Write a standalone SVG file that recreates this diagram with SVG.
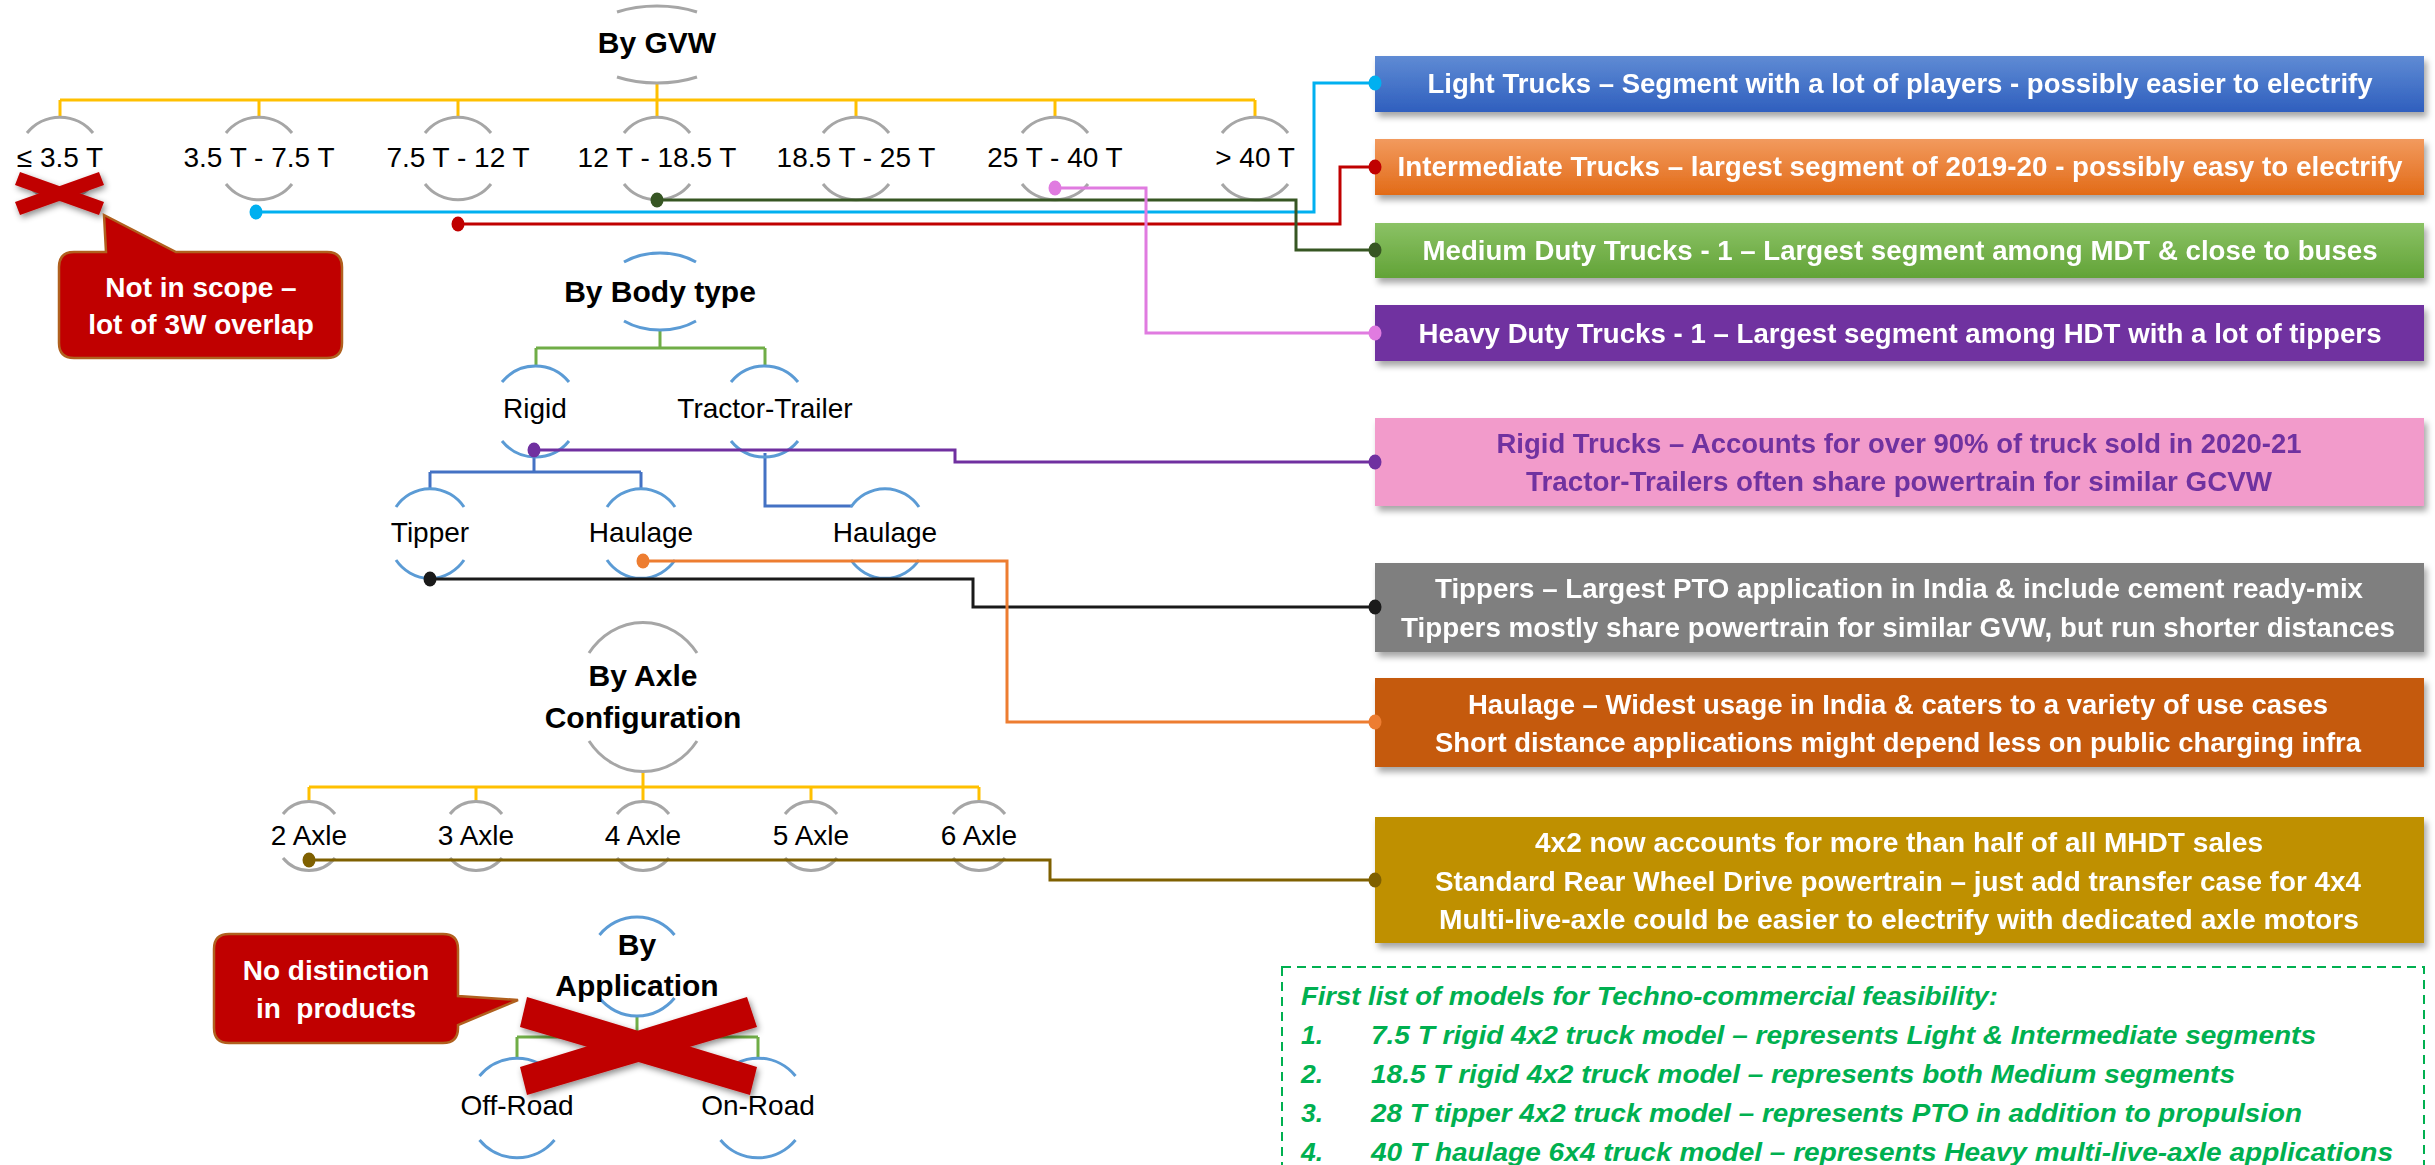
<svg xmlns="http://www.w3.org/2000/svg" width="2435" height="1165" viewBox="0 0 2435 1165">
  <style>
    text { font-family: 'Liberation Sans', Arial, sans-serif; }
    .lbl { font-size: 28px; fill: #000; text-anchor: middle; }
    .hdr { font-size: 30px; font-weight: bold; fill: #000; text-anchor: middle; }
    .arcG { fill: none; stroke: #a6a6a6; stroke-width: 3; }
    .arcB { fill: none; stroke: #5b9bd5; stroke-width: 3; }
    .tree { fill: none; stroke-width: 3; }
    .yel { stroke: #ffc000; }
    .grn { stroke: #70ad47; }
    .blu { stroke: #4472c4; }
    .btxt { font-size: 27.5px; font-weight: bold; fill: #fff; text-anchor: middle; }
    .ptxt { font-size: 27.5px; font-weight: bold; fill: #7030a0; text-anchor: middle; }
    .ctxt { font-size: 28px; font-weight: bold; fill: #fff; text-anchor: middle; }
    .list { font-size: 26.5px; font-weight: bold; font-style: italic; fill: #00b050; }
    .conn path { fill: none; stroke-width: 3; }
    .cross { fill: #c00000; }
    .callout { fill: #c00000; stroke: #b0601e; stroke-width: 2.5; }
  </style>
  <defs>
    <filter id="shadow" x="-5%" y="-20%" width="110%" height="150%">
      <feDropShadow dx="3" dy="5" stdDeviation="3" flood-color="#000" flood-opacity="0.35"/>
    </filter>
    <filter id="xshadow" x="-20%" y="-30%" width="140%" height="160%">
      <feDropShadow dx="2" dy="3" stdDeviation="3" flood-color="#000" flood-opacity="0.45"/>
    </filter>
    <linearGradient id="gBlue" x1="0" y1="0" x2="0" y2="1">
      <stop offset="0" stop-color="#5f8bd4"/><stop offset="1" stop-color="#2f5fbe"/>
    </linearGradient>
    <linearGradient id="gOrange" x1="0" y1="0" x2="0" y2="1">
      <stop offset="0" stop-color="#f29a5e"/><stop offset="1" stop-color="#e26b17"/>
    </linearGradient>
    <linearGradient id="gGreen" x1="0" y1="0" x2="0" y2="1">
      <stop offset="0" stop-color="#8bc265"/><stop offset="1" stop-color="#62a337"/>
    </linearGradient>
  </defs>

  <rect width="2435" height="1165" fill="#fff"/>

  <!-- ===== By GVW tree ===== -->
  <g id="tree-gvw-lines" class="tree yel">
    <path d="M657,83 V100 M60,100 H1255 M60,100 V117 M259,100 V117 M458,100 V117 M657,100 V117 M856,100 V117 M1055,100 V117 M1255,100 V117"/>
  </g>
  <g id="node-gvw">
    <path class="arcG" d="M617,12 A75,38.5 0 0 1 697,12 M617,77 A75,38.5 0 0 0 697,77"/>
    <text class="hdr" x="657" y="53">By GVW</text>
  </g>
  <g id="node-gvw-le35">
    <path class="arcG" d="M27,133 A42,41.5 0 0 1 93,133 M27,184 A42,41.5 0 0 0 93,184"/>
    <text class="lbl" x="60" y="167">≤ 3.5 T</text>
  </g>
  <g id="node-gvw-35-75">
    <path class="arcG" d="M226,133 A42,41.5 0 0 1 292,133 M226,184 A42,41.5 0 0 0 292,184"/>
    <text class="lbl" x="259" y="167">3.5 T - 7.5 T</text>
  </g>
  <g id="node-gvw-75-12">
    <path class="arcG" d="M425,133 A42,41.5 0 0 1 491,133 M425,184 A42,41.5 0 0 0 491,184"/>
    <text class="lbl" x="458" y="167">7.5 T - 12 T</text>
  </g>
  <g id="node-gvw-12-185">
    <path class="arcG" d="M624,133 A42,41.5 0 0 1 690,133 M624,184 A42,41.5 0 0 0 690,184"/>
    <text class="lbl" x="657" y="167">12 T - 18.5 T</text>
  </g>
  <g id="node-gvw-185-25">
    <path class="arcG" d="M823,133 A42,41.5 0 0 1 889,133 M823,184 A42,41.5 0 0 0 889,184"/>
    <text class="lbl" x="856" y="167">18.5 T - 25 T</text>
  </g>
  <g id="node-gvw-25-40">
    <path class="arcG" d="M1022,133 A42,41.5 0 0 1 1088,133 M1022,184 A42,41.5 0 0 0 1088,184"/>
    <text class="lbl" x="1055" y="167">25 T - 40 T</text>
  </g>
  <g id="node-gvw-gt40">
    <path class="arcG" d="M1222,133 A42,41.5 0 0 1 1288,133 M1222,184 A42,41.5 0 0 0 1288,184"/>
    <text class="lbl" x="1255" y="167">&gt; 40 T</text>
  </g>

  <!-- out-of-scope mark and its callout -->
  <g id="cross-gvw" class="cross" filter="url(#xshadow)">
    <polygon points="20,172 15,185 99,215 104,202"/>
    <polygon points="99,172 104,185 20,215 15,202"/>
  </g>
  <g id="callout-scope">
    <path class="callout" d="M74,252 H106 L104,215 L176,252 H327 Q342,252 342,267 V343 Q342,358 327,358 H74 Q59,358 59,343 V267 Q59,252 74,252 Z"/>
    <text class="ctxt" x="201" y="297">Not in scope –</text>
    <text class="ctxt" x="201" y="334">lot of 3W overlap</text>
  </g>

  <!-- ===== By Body type tree ===== -->
  <g id="tree-body-lines" class="tree">
    <path class="grn" d="M660,330 V348 M536,348 H765 M536,348 V366 M765,348 V366"/>
    <path class="blu" d="M534,457 V472 M430,472 H641 M430,472 V489 M641,472 V489 M765,453 V506 H852"/>
  </g>
  <g id="node-body">
    <path class="arcB" d="M624,262 A56,38.5 0 0 1 696,262 M624,321 A56,38.5 0 0 0 696,321"/>
    <text class="hdr" x="660" y="302">By Body type</text>
  </g>
  <g id="node-rigid">
    <path class="arcB" d="M502,382 A44,45.5 0 0 1 569,382 M502,441 A44,45.5 0 0 0 569,441"/>
    <text class="lbl" x="535" y="418">Rigid</text>
  </g>
  <g id="node-tractor">
    <path class="arcB" d="M731,382 A44,45.5 0 0 1 798,382 M731,441 A44,45.5 0 0 0 798,441"/>
    <text class="lbl" x="765" y="418">Tractor-Trailer</text>
  </g>
  <g id="node-tipper">
    <path class="arcB" d="M396,507 A42,44.5 0 0 1 464,507 M396,560 A42,44.5 0 0 0 464,560"/>
    <text class="lbl" x="430" y="542">Tipper</text>
  </g>
  <g id="node-haulage-rigid">
    <path class="arcB" d="M607,507 A42,44.5 0 0 1 675,507 M607,560 A42,44.5 0 0 0 675,560"/>
    <text class="lbl" x="641" y="542">Haulage</text>
  </g>
  <g id="node-haulage-tractor">
    <path class="arcB" d="M851,507 A42,44.5 0 0 1 919,507 M851,560 A42,44.5 0 0 0 919,560"/>
    <text class="lbl" x="885" y="542">Haulage</text>
  </g>

  <!-- ===== By Axle Configuration tree ===== -->
  <g id="tree-axle-lines" class="tree yel">
    <path d="M643,772 V787 M309,787 H979 M309,787 V801 M476,787 V801 M643,787 V801 M811,787 V801 M979,787 V801"/>
  </g>
  <g id="node-axle">
    <path class="arcG" d="M589,653 A67,75 0 0 1 697,653 M589,741 A67,75 0 0 0 697,741"/>
    <text class="hdr" x="643" y="686" font-size="31">By Axle</text>
    <text class="hdr" x="643" y="728" font-size="31">Configuration</text>
  </g>
  <g id="node-axle-2">
    <path class="arcG" d="M283,814 A34,35 0 0 1 335,814 M283,858 A34,35 0 0 0 335,858"/>
    <text class="lbl" x="309" y="845">2 Axle</text>
  </g>
  <g id="node-axle-3">
    <path class="arcG" d="M450,814 A34,35 0 0 1 502,814 M450,858 A34,35 0 0 0 502,858"/>
    <text class="lbl" x="476" y="845">3 Axle</text>
  </g>
  <g id="node-axle-4">
    <path class="arcG" d="M617,814 A34,35 0 0 1 669,814 M617,858 A34,35 0 0 0 669,858"/>
    <text class="lbl" x="643" y="845">4 Axle</text>
  </g>
  <g id="node-axle-5">
    <path class="arcG" d="M785,814 A34,35 0 0 1 837,814 M785,858 A34,35 0 0 0 837,858"/>
    <text class="lbl" x="811" y="845">5 Axle</text>
  </g>
  <g id="node-axle-6">
    <path class="arcG" d="M953,814 A34,35 0 0 1 1005,814 M953,858 A34,35 0 0 0 1005,858"/>
    <text class="lbl" x="979" y="845">6 Axle</text>
  </g>

  <!-- ===== By Application tree ===== -->
  <g id="tree-app-lines" class="tree grn">
    <path d="M637,1016 V1037 M517,1037 H758 M517,1037 V1058 M758,1037 V1058"/>
  </g>
  <g id="node-app">
    <path class="arcB" d="M599.5,935 A48.6,49.5 0 0 1 674.5,935 M599.5,998 A48.6,49.5 0 0 0 674.5,998"/>
    <text class="hdr" x="637" y="955" font-size="31">By</text>
    <text class="hdr" x="637" y="996" font-size="31">Application</text>
  </g>
  <g id="node-offroad">
    <path class="arcB" d="M479.5,1076 A49,50 0 0 1 554.5,1076 M479.5,1140 A49,50 0 0 0 554.5,1140"/>
    <text class="lbl" x="517" y="1115">Off-Road</text>
  </g>
  <g id="node-onroad">
    <path class="arcB" d="M720.5,1076 A49,50 0 0 1 795.5,1076 M720.5,1140 A49,50 0 0 0 795.5,1140"/>
    <text class="lbl" x="758" y="1115">On-Road</text>
  </g>
  <g id="callout-distinction">
    <path class="callout" d="M229,934 H443 Q458,934 458,949 V996 L518,1000 L458,1025 V1028 Q458,1043 443,1043 H229 Q214,1043 214,1028 V949 Q214,934 229,934 Z"/>
    <text class="ctxt" x="336" y="980">No distinction</text>
    <text class="ctxt" x="336" y="1018" xml:space="preserve">in  products</text>
  </g>
  <g id="cross-app" class="cross" filter="url(#xshadow)">
    <polygon points="527,997 520,1027 750,1095 757,1067"/>
    <polygon points="747,997 757,1027 527,1095 520,1067"/>
  </g>

  <!-- ===== Segment notes ===== -->
  <g id="note-light" filter="url(#shadow)">
    <rect x="1375" y="56" width="1049" height="56" fill="url(#gBlue)"/>
    <text class="btxt" x="1900" y="93" textLength="945" lengthAdjust="spacingAndGlyphs">Light Trucks – Segment with a lot of players - possibly easier to electrify</text>
  </g>
  <g id="note-intermediate" filter="url(#shadow)">
    <rect x="1375" y="139" width="1049" height="56" fill="url(#gOrange)"/>
    <text class="btxt" x="1900" y="176" textLength="1005" lengthAdjust="spacingAndGlyphs">Intermediate Trucks – largest segment of 2019-20 - possibly easy to electrify</text>
  </g>
  <g id="note-medium" filter="url(#shadow)">
    <rect x="1375" y="223" width="1049" height="55" fill="url(#gGreen)"/>
    <text class="btxt" x="1900" y="260" textLength="955" lengthAdjust="spacingAndGlyphs">Medium Duty Trucks - 1 – Largest segment among MDT &amp; close to buses</text>
  </g>
  <g id="note-heavy" filter="url(#shadow)">
    <rect x="1375" y="305" width="1049" height="56" fill="#7030a0"/>
    <text class="btxt" x="1900" y="343" textLength="963" lengthAdjust="spacingAndGlyphs">Heavy Duty Trucks - 1 – Largest segment among HDT with a lot of tippers</text>
  </g>
  <g id="note-rigid" filter="url(#shadow)">
    <rect x="1375" y="418" width="1049" height="88" fill="#f29bcb"/>
    <text class="ptxt" x="1899" y="453" textLength="805" lengthAdjust="spacingAndGlyphs">Rigid Trucks – Accounts for over 90% of truck sold in 2020-21</text>
    <text class="ptxt" x="1899" y="491" textLength="746" lengthAdjust="spacingAndGlyphs">Tractor-Trailers often share powertrain for similar GCVW</text>
  </g>
  <g id="note-tippers" filter="url(#shadow)">
    <rect x="1375" y="563" width="1049" height="89" fill="#7f7f7f"/>
    <text class="btxt" x="1899" y="598" textLength="928" lengthAdjust="spacingAndGlyphs">Tippers – Largest PTO application in India &amp; include cement ready-mix</text>
    <text class="btxt" x="1898" y="637" textLength="994" lengthAdjust="spacingAndGlyphs">Tippers mostly share powertrain for similar GVW, but run shorter distances</text>
  </g>
  <g id="note-haulage" filter="url(#shadow)">
    <rect x="1375" y="678" width="1049" height="89" fill="#c55a11"/>
    <text class="btxt" x="1898" y="714" textLength="860" lengthAdjust="spacingAndGlyphs">Haulage – Widest usage in India &amp; caters to a variety of use cases</text>
    <text class="btxt" x="1898" y="752" textLength="926" lengthAdjust="spacingAndGlyphs">Short distance applications might depend less on public charging infra</text>
  </g>
  <g id="note-axle" filter="url(#shadow)">
    <rect x="1375" y="817" width="1049" height="126" fill="#bf9000"/>
    <text class="btxt" x="1899" y="852" textLength="728" lengthAdjust="spacingAndGlyphs">4x2 now accounts for more than half of all MHDT sales</text>
    <text class="btxt" x="1898" y="891" textLength="926" lengthAdjust="spacingAndGlyphs">Standard Rear Wheel Drive powertrain – just add transfer case for 4x4</text>
    <text class="btxt" x="1899" y="929" textLength="920" lengthAdjust="spacingAndGlyphs">Multi-live-axle could be easier to electrify with dedicated axle motors</text>
  </g>

  <!-- ===== Model shortlist ===== -->
  <g id="note-models">
    <rect x="1282" y="967" width="1142" height="220" fill="none" stroke="#00b050" stroke-width="2" stroke-dasharray="9 6"/>
    <text class="list" x="1301" y="1005" textLength="697" lengthAdjust="spacingAndGlyphs">First list of models for Techno-commercial feasibility:</text>
    <text class="list" x="1301" y="1044">1.</text>
    <text class="list" x="1371" y="1044" textLength="945" lengthAdjust="spacingAndGlyphs">7.5 T rigid 4x2 truck model – represents Light &amp; Intermediate segments</text>
    <text class="list" x="1301" y="1083">2.</text>
    <text class="list" x="1371" y="1083" textLength="864" lengthAdjust="spacingAndGlyphs">18.5 T rigid 4x2 truck model – represents both Medium segments</text>
    <text class="list" x="1301" y="1122">3.</text>
    <text class="list" x="1371" y="1122" textLength="931" lengthAdjust="spacingAndGlyphs">28 T tipper 4x2 truck model – represents PTO in addition to propulsion</text>
    <text class="list" x="1301" y="1161">4.</text>
    <text class="list" x="1371" y="1161" textLength="1022" lengthAdjust="spacingAndGlyphs">40 T haulage 6x4 truck model – represents Heavy multi-live-axle applications</text>
  </g>

  <!-- ===== Connectors from segments to notes ===== -->
  <g id="connectors" class="conn">
    <path stroke="#00b0f0" d="M256,212 H1314 V83 H1375"/>
    <path stroke="#c00000" d="M458,224 H1340 V167 H1375"/>
    <path stroke="#375623" d="M657,200 H1296 V250 H1375"/>
    <path stroke="#e07be0" d="M1055,188 H1146 V333 H1375"/>
    <path stroke="#7030a0" d="M534,450 H955 V462 H1375"/>
    <path stroke="#1a1a1a" d="M430,579 H973 V607 H1375"/>
    <path stroke="#ed7d31" d="M643,561 H1007 V722 H1375"/>
    <path stroke="#7f6000" d="M309,860 H1050 V880 H1375"/>
    <g stroke="none">
      <ellipse cx="256" cy="212" rx="6.5" ry="7.5" fill="#00b0f0"/>
      <ellipse cx="1375" cy="83" rx="6.5" ry="7.5" fill="#00b0f0"/>
      <ellipse cx="458" cy="224" rx="6.5" ry="7.5" fill="#c00000"/>
      <ellipse cx="1375" cy="167" rx="6.5" ry="7.5" fill="#c00000"/>
      <ellipse cx="657" cy="200" rx="6.5" ry="7.5" fill="#375623"/>
      <ellipse cx="1375" cy="250" rx="6.5" ry="7.5" fill="#375623"/>
      <ellipse cx="1055" cy="188" rx="6.5" ry="7.5" fill="#e07be0"/>
      <ellipse cx="1375" cy="333" rx="6.5" ry="7.5" fill="#e07be0"/>
      <ellipse cx="534" cy="450" rx="6.5" ry="7.5" fill="#7030a0"/>
      <ellipse cx="1375" cy="462" rx="6.5" ry="7.5" fill="#7030a0"/>
      <ellipse cx="430" cy="579" rx="6.5" ry="7.5" fill="#1a1a1a"/>
      <ellipse cx="1375" cy="607" rx="6.5" ry="7.5" fill="#1a1a1a"/>
      <ellipse cx="643" cy="561" rx="6.5" ry="7.5" fill="#ed7d31"/>
      <ellipse cx="1375" cy="722" rx="6.5" ry="7.5" fill="#ed7d31"/>
      <ellipse cx="309" cy="860" rx="6.5" ry="7.5" fill="#7f6000"/>
      <ellipse cx="1375" cy="880" rx="6.5" ry="7.5" fill="#7f6000"/>
    </g>
  </g>
</svg>
